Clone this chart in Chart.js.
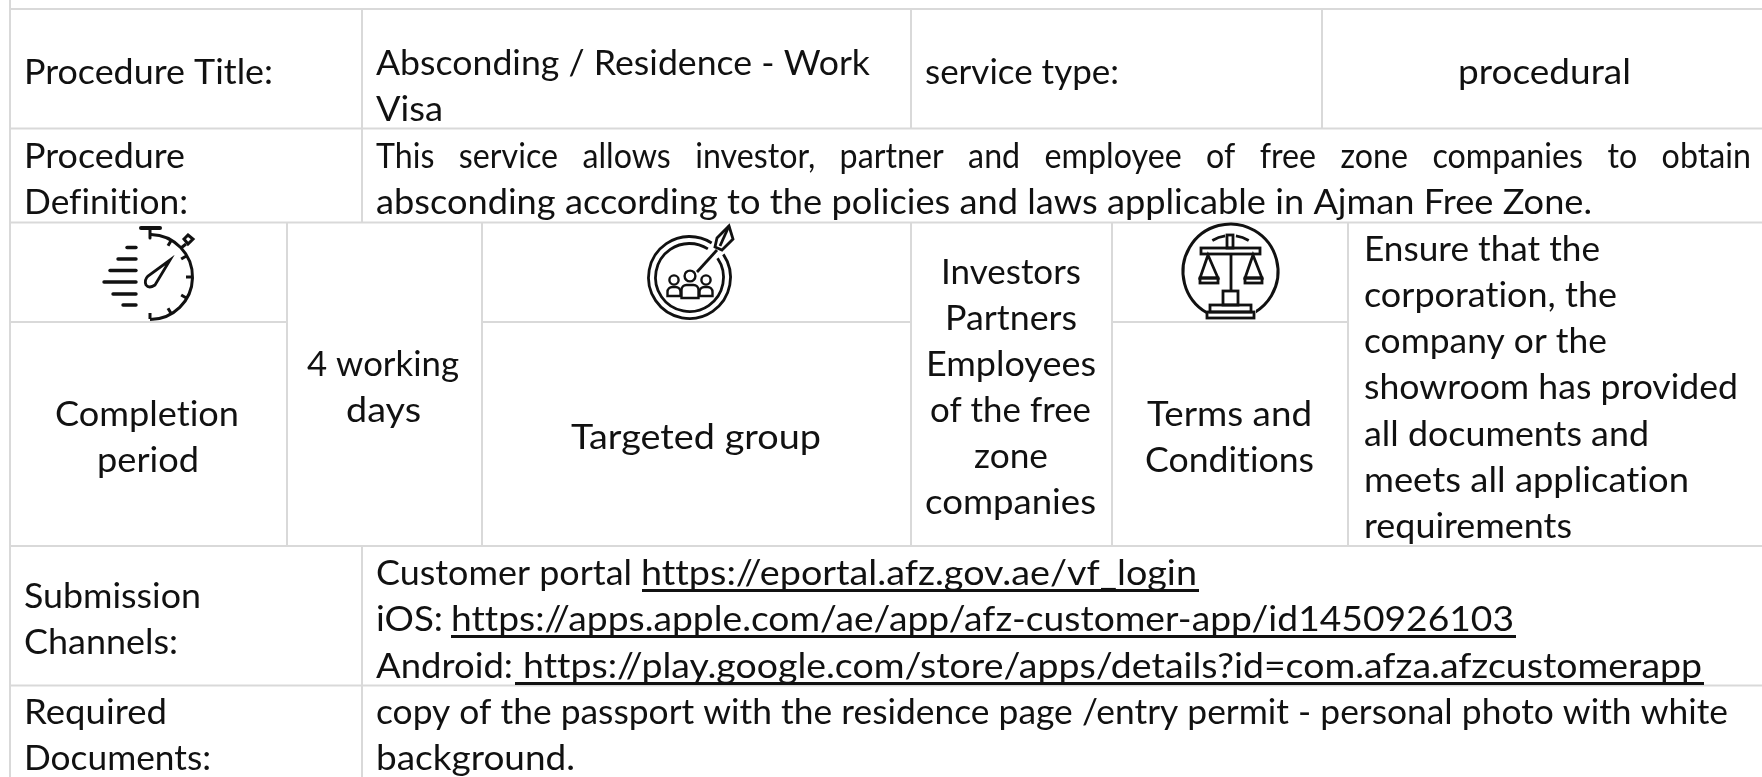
<!DOCTYPE html>
<html>
<head>
<meta charset="utf-8">
<title>Procedure card</title>
<script src="https://cdn.jsdelivr.net/npm/chart.js@4"></script>
<style>
    html, body { margin: 0; padding: 0; background: #fff; }
    canvas { display: block; }
</style>
</head>
<body>
<canvas id="card" width="1762" height="777"></canvas>
<script>
// Table text, one entry per printed line
const textLines = [
    'Procedure Title:', 'Absconding / Residence - Work', 'Visa', 'service type:', 'procedural',
    'Procedure', 'Definition:',
    'This service allows investor, partner and employee of free zone companies to obtain',
    'absconding according to the policies and laws applicable in Ajman Free Zone.',
    'Investors', 'Partners', 'Employees', 'of the free', 'zone', 'companies',
    'Ensure that the', 'corporation, the', 'company or the', 'showroom has provided',
    'all documents and', 'meets all application', 'requirements',
    'Terms and', 'Conditions', 'Completion', 'period', '4 working', 'days', 'Targeted group',
    'Submission', 'Channels:', 'Customer portal', 'iOS:', 'Android:',
    'Required', 'Documents:',
    'copy of the passport with the residence page /entry permit - personal photo with white',
    'background.'
];
// Left and right ends and baseline of each line above
const textLeft = [24, 376, 376, 925, 1458, 24, 24, 376, 376, 941, 945, 926, 930, 974, 925,
    1364, 1364, 1364, 1364, 1364, 1364, 1364, 1147, 1145, 55, 97, 307, 346, 571, 24, 24, 376, 376, 376,
    24, 24, 376, 376];
const textRight = [273, 870, 443, 1119, 1631, 185, 188, 1751, 1592, 1081, 1077, 1096, 1091, 1048, 1096,
    1600, 1617, 1607, 1738, 1649, 1689, 1572, 1312, 1314, 239, 199, 459, 421, 821, 201, 178, 632, 443, 513,
    167, 211, 1728, 575];
const textBaseline = [84, 75, 121, 84, 84, 168, 214, 168, 214, 284, 330, 376, 422, 468, 514,
    261, 307, 353, 399, 446, 492, 538, 426, 472, 426, 472, 376, 422, 449, 608, 654, 585, 631, 678,
    724, 770, 724, 770];

// Underlined links
const linkLines = [
    'https://eportal.afz.gov.ae/vf_login',
    'https://apps.apple.com/ae/app/afz-customer-app/id1450926103',
    'https://play.google.com/store/apps/details?id=com.afza.afzcustomerapp'
];
const linkLeft = [641, 451, 523];
const linkRight = [1197, 1514, 1702];
const linkBaseline = [585, 631, 678];
const linkUnderlineLeft = [642, 451, 515];

// Table rules: [y, from x, to x]
const horizontalRules = [
    [9, 10, 1762], [128.5, 10, 1762], [222.5, 10, 1762],
    [322, 10, 287], [322, 482, 911], [322, 1112, 1348],
    [546, 10, 1762], [685.5, 10, 1762]
];
// Table rules: [x, from y, to y]
const verticalRules = [
    [10, 0, 777], [362, 9, 222.5], [911, 9, 128.5], [1322, 9, 128.5],
    [287, 222.5, 546], [482, 222.5, 546], [911, 222.5, 546], [1112, 222.5, 546], [1348, 222.5, 546],
    [362, 546, 777]
];

const RULE_COLOR = '#d9d9d9';
const TEXT_COLOR = '#111111';
const TEXT_FONT = '35px Lato';
const JUSTIFY_SQUEEZE = 0.92;

const ruleDatasets = [
    ...horizontalRules.map(r => [{ x: r[1], y: r[0] }, { x: r[2], y: r[0] }]),
    ...verticalRules.map(r => [{ x: r[0], y: r[1] }, { x: r[0], y: r[2] }])
].map(points => ({
    data: points,
    showLine: true,
    borderColor: RULE_COLOR,
    borderWidth: 2,
    pointRadius: 0
}));

// Draw one line of text squeezed to the width it has in the picture
function drawLine(ctx, text, left, right, baseline, justify) {
    ctx.save();
    ctx.font = TEXT_FONT;
    ctx.fillStyle = TEXT_COLOR;
    ctx.textBaseline = 'alphabetic';
    ctx.letterSpacing = '0.01px'; // keeps Lato from joining ti and // into ligatures
    const natural = ctx.measureText(text).width;
    ctx.translate(left, baseline);
    if (justify) {
        const gaps = text.split(' ').length - 1;
        ctx.wordSpacing = (((right - left) / JUSTIFY_SQUEEZE - natural) / gaps) + 'px';
        ctx.scale(JUSTIFY_SQUEEZE, 1);
    } else {
        ctx.scale((right - left) / natural, 1);
    }
    ctx.fillText(text, 0, 0);
    ctx.restore();
}

function stroke(ctx, points, close) {
    ctx.beginPath();
    points.forEach((p, i) => i ? ctx.lineTo(p[0], p[1]) : ctx.moveTo(p[0], p[1]));
    if (close) ctx.closePath();
    ctx.stroke();
}

function circle(ctx, x, y, r, from = 0, to = Math.PI * 2) {
    ctx.beginPath();
    ctx.arc(x, y, r, from, to);
    ctx.stroke();
}

function drawStopwatch(ctx) {
    ctx.lineWidth = 3;
    circle(ctx, 150, 277, 42.5, -1.55, 1.57);
    // crown
    ctx.lineCap = 'round';
    ctx.lineWidth = 4;
    stroke(ctx, [[141, 228], [160, 228]]);
    ctx.lineWidth = 3;
    stroke(ctx, [[150, 228], [150, 238]]);
    ctx.lineCap = 'butt';
    // side button
    ctx.lineWidth = 3;
    stroke(ctx, [[188, 235], [193, 239], [188, 244], [184, 239]], true);
    stroke(ctx, [[186, 244], [181, 248]]);
    // ticks
    [-60, -30, 0, 30, 60, 90].forEach(a => {
        const t = a * Math.PI / 180;
        stroke(ctx, [[150 + 42 * Math.cos(t), 277 + 42 * Math.sin(t)], [150 + 36 * Math.cos(t), 277 + 36 * Math.sin(t)]]);
    });
    // speed lines
    ctx.lineWidth = 3.4;
    ctx.lineCap = 'round';
    stroke(ctx, [[127, 247.5], [136, 247.5]]);
    stroke(ctx, [[118, 259], [136, 259]]);
    stroke(ctx, [[110, 270.5], [136, 270.5]]);
    stroke(ctx, [[104, 282], [136, 282]]);
    stroke(ctx, [[113, 294], [136, 294]]);
    stroke(ctx, [[123, 305], [136, 305]]);
    ctx.lineCap = 'butt';
    // needle
    ctx.lineWidth = 2.8;
    ctx.beginPath();
    ctx.moveTo(170, 260);
    ctx.lineTo(155, 285);
    ctx.quadraticCurveTo(149, 289, 146, 285);
    ctx.quadraticCurveTo(144, 280, 148, 276);
    ctx.closePath();
    ctx.stroke();
}

function drawPerson(ctx, x, headY, headR, bodyHalf, bodyTop, bodyBottom) {
    ctx.fillStyle = '#fff';
    circle(ctx, x, headY, headR);
    ctx.beginPath();
    ctx.roundRect(x - bodyHalf, bodyTop, bodyHalf * 2, bodyBottom - bodyTop, [5, 5, 0, 0]);
    ctx.fill();
    ctx.stroke();
}

function drawTarget(ctx) {
    ctx.lineWidth = 2.8;
    circle(ctx, 689.5, 277.5, 41, -0.6, Math.PI * 2 - 1);
    circle(ctx, 689.5, 277.5, 34, -0.6, Math.PI * 2 - 1);
    // arrow
    stroke(ctx, [[697, 272], [717, 250]]);
    stroke(ctx, [[722, 250], [733, 239], [729, 226], [717, 238], [715, 247]], true);
    stroke(ctx, [[720, 246], [729, 226]]);
    // people
    ctx.lineWidth = 2.4;
    drawPerson(ctx, 674, 280, 4.6, 6.5, 287, 296);
    drawPerson(ctx, 706, 280, 4.6, 6.5, 287, 296);
    drawPerson(ctx, 690, 276, 5.4, 8.5, 285, 298);
}

function drawScales(ctx) {
    ctx.lineWidth = 3;
    circle(ctx, 1230.5, 271.5, 47.5, 2.1, Math.PI * 2 + 1.04);
    ctx.lineWidth = 2.8;
    circle(ctx, 1230.5, 271.5, 36, -2.1, -1.72);
    circle(ctx, 1230.5, 271.5, 36, -1.42, -1.04);
    ctx.strokeRect(1227, 235, 6, 13);
    ctx.strokeRect(1201, 248, 59, 6);
    // left pan
    stroke(ctx, [[1208, 255], [1200, 278], [1218, 278]], true);
    ctx.strokeRect(1200, 278, 18, 5);
    // right pan
    stroke(ctx, [[1253, 255], [1245, 278], [1262, 278]], true);
    ctx.strokeRect(1245, 278, 17, 5);
    // pole and foot
    stroke(ctx, [[1231, 254], [1231, 291]]);
    ctx.fillStyle = '#fff';
    ctx.fillRect(1206, 290, 50, 29);
    ctx.strokeRect(1223, 291, 15, 14);
    ctx.strokeRect(1210, 305, 41, 7);
    ctx.strokeRect(1207, 312, 47, 6);
}

const tablePlugin = {
    id: 'tablePlugin',
    afterDatasetsDraw(chart) {
        const ctx = chart.ctx;
        const x = chart.scales.x;
        const y = chart.scales.y;
        ctx.save();
        textLines.forEach((text, i) => {
            drawLine(ctx, text, x.getPixelForValue(textLeft[i]), x.getPixelForValue(textRight[i]),
                y.getPixelForValue(textBaseline[i]), text.startsWith('This service'));
        });
        linkLines.forEach((text, i) => {
            const baseline = y.getPixelForValue(linkBaseline[i]);
            drawLine(ctx, text, x.getPixelForValue(linkLeft[i]), x.getPixelForValue(linkRight[i]), baseline, false);
            ctx.fillStyle = TEXT_COLOR;
            ctx.fillRect(x.getPixelForValue(linkUnderlineLeft[i]), baseline + 4,
                x.getPixelForValue(linkRight[i]) - x.getPixelForValue(linkUnderlineLeft[i]) + 2, 3);
        });
        ctx.strokeStyle = TEXT_COLOR;
        drawStopwatch(ctx);
        drawTarget(ctx);
        drawScales(ctx);
        ctx.restore();
    }
};

new Chart(document.getElementById('card').getContext('2d'), {
    type: 'scatter',
    data: { datasets: ruleDatasets },
    options: {
        responsive: false,
        animation: false,
        layout: { padding: 0 },
        plugins: { legend: { display: false }, tooltip: { enabled: false } },
        scales: {
            x: { type: 'linear', min: 0, max: 1762, display: false },
            y: { type: 'linear', min: 0, max: 777, reverse: true, display: false }
        }
    },
    plugins: [tablePlugin]
});
</script>
</body>
</html>
